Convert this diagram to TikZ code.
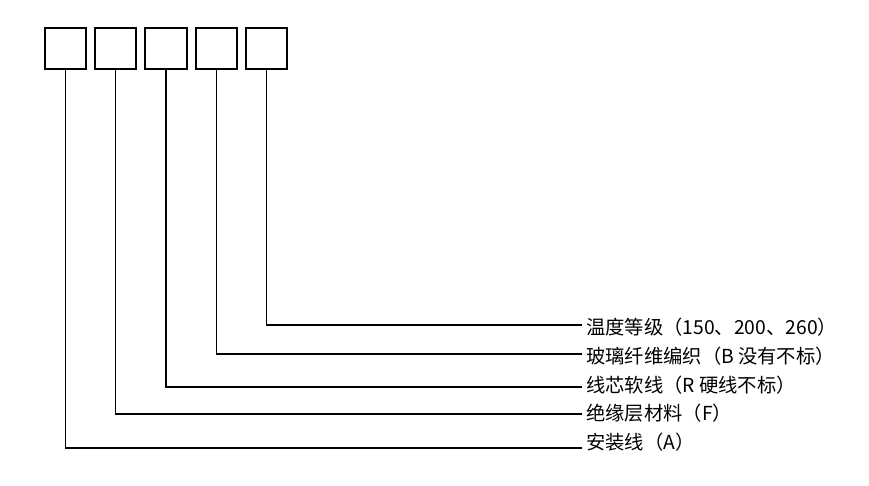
\documentclass[tikz,border=0pt]{standalone}
\usepackage{fontspec}
\newfontfamily\cjk{Noto Sans CJK SC}
\begin{document}
\begin{tikzpicture}[x=1pt,y=-1pt,
  codebox/.style={draw,line width=2pt,minimum width=41.5pt,minimum height=41.5pt,inner sep=0pt},
  conn/.style={line width=1.2pt},
  lbl/.style={anchor=west,inner sep=0pt,font=\cjk\fontsize{19.3}{21}\selectfont}]
\useasboundingbox (0,0) rectangle (869,486);
\foreach \i/\x in {1/65.7,2/115.7,3/166,4/216.7,5/266.7}{
  \node[codebox] (b\i) at (\x,48.5) {};
}
\coordinate (e5) at (582,325);
\coordinate (e4) at (582,354);
\coordinate (e3) at (582,387);
\coordinate (e2) at (582,414);
\coordinate (e1) at (582,448);
\node[lbl] (t5) at (586,327) {温度等级（150、200、260）};
\node[lbl] (t4) at (586,356) {玻璃纤维编织（B 没有不标）};
\node[lbl] (t3) at (586,385) {线芯软线（R 硬线不标）};
\node[lbl] (t2) at (586,413) {绝缘层材料（F）};
\node[lbl] (t1) at (586,442) {安装线（A）};
\foreach \i in {1,...,5}{
  \draw[conn] (b\i.south) |- (e\i);
}
\end{tikzpicture}
\end{document}
